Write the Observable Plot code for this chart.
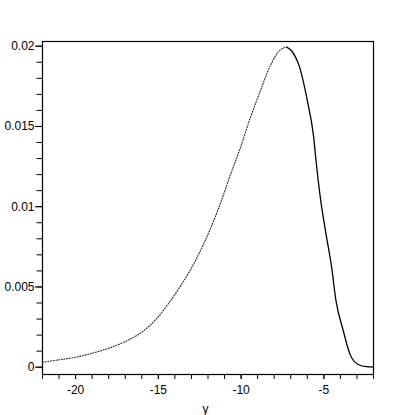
<!DOCTYPE html>
<html>
<head>
<meta charset="utf-8">
<script src="https://cdn.jsdelivr.net/npm/d3@7"></script>
<script src="https://cdn.jsdelivr.net/npm/@observablehq/plot@0.6"></script>
<style>
  html, body { margin: 0; padding: 0; background: #fff; overflow: hidden; }
</style>
</head>
<body>
<div id="chart"></div>
<script>
// Dotted (left) part of the curve
const dottedX = [-22, -21, -20, -19, -18, -17, -16, -15, -14.4, -13.67, -13.07, -12.46, -11.86, -11.26, -10.66, -10.03, -9.43, -8.83, -8.23, -7.62, -7.24];
const dottedY = [0.00031, 0.00046, 0.00062, 0.00087, 0.00118, 0.0016, 0.00218, 0.00315, 0.00395, 0.00505, 0.00605, 0.00725, 0.00862, 0.01018, 0.01195, 0.01371, 0.01558, 0.01724, 0.0188, 0.01978, 0.01994];
// Solid (right) part of the curve
const solidX = [-7.24, -6.94, -6.44, -6.0, -5.64, -5.43, -5.19, -4.87, -4.53, -4.27, -3.83, -3.43, -2.93, -2.42, -2.0];
const solidY = [0.01994, 0.0197, 0.0186, 0.01662, 0.01454, 0.01246, 0.01039, 0.00831, 0.00623, 0.00416, 0.00229, 0.00083, 0.00017, 0.00003, 0.00001];

// Axis ticks
const xMajorTicks = [-20, -15, -10, -5];
const xMajorLabels = ["-20", "-15", "-10", "-5"];
const xMinorTicks = [-22, -21, -20, -19, -18, -17, -16, -15, -14, -13, -12, -11, -10, -9, -8, -7, -6, -5, -4, -3, -2];
const yMajorTicks = [0, 0.005, 0.01, 0.015, 0.02];
const yMajorLabels = ["0", "0.005", "0.01", "0.015", "0.02"];
const yMinorTicks = [0, 0.001, 0.002, 0.003, 0.004, 0.005, 0.006, 0.007, 0.008, 0.009, 0.01, 0.011, 0.012, 0.013, 0.014, 0.015, 0.016, 0.017, 0.018, 0.019, 0.02];
const xAxisTitle = "y";

const dotted = dottedX.map((x, i) => ({x, y: dottedY[i]}));
const solid = solidX.map((x, i) => ({x, y: solidY[i]}));

const fmtX = d => xMajorLabels[xMajorTicks.indexOf(d)];
const fmtY = d => yMajorLabels[yMajorTicks.indexOf(d)];

const chart = Plot.plot({
  width: 415,
  height: 415,
  marginTop: 41,
  marginBottom: 41,
  marginLeft: 42,
  marginRight: 42,
  x: {domain: [-22, -2]},
  y: {domain: [-0.000455, 0.020293]},
  style: {fontFamily: "'Liberation Sans', Arial, sans-serif", fontSize: "12px", background: "white", color: "black"},
  marks: [
    Plot.axisX(xMinorTicks, {tickSize: 5, tickFormat: () => "", label: null, stroke: "black"}),
    Plot.axisX(xMajorTicks, {tickSize: 5, tickPadding: 6, tickFormat: fmtX, label: null, stroke: "black", fill: "black", fontSize: 12}),
    Plot.axisY(yMinorTicks, {tickSize: 5.5, tickFormat: () => "", label: null, stroke: "black"}),
    Plot.axisY(yMajorTicks, {tickSize: 7, tickPadding: 1, tickFormat: fmtY, label: null, stroke: "black", fill: "black", fontSize: 12}),
    Plot.frame({stroke: "black", strokeWidth: 1.2}),
    Plot.line(dotted, {x: "x", y: "y", curve: "monotone-x", stroke: "#222", strokeWidth: 1.1, strokeDasharray: "1,1.7"}),
    Plot.line(solid, {x: "x", y: "y", curve: "monotone-x", stroke: "black", strokeWidth: 1.3}),
    Plot.text([xAxisTitle], {text: d => d, frameAnchor: "bottom", dy: 38, dx: -2.5, fontSize: 12, fill: "black"})
  ]
});
document.getElementById("chart").appendChild(chart);
</script>
</body>
</html>
